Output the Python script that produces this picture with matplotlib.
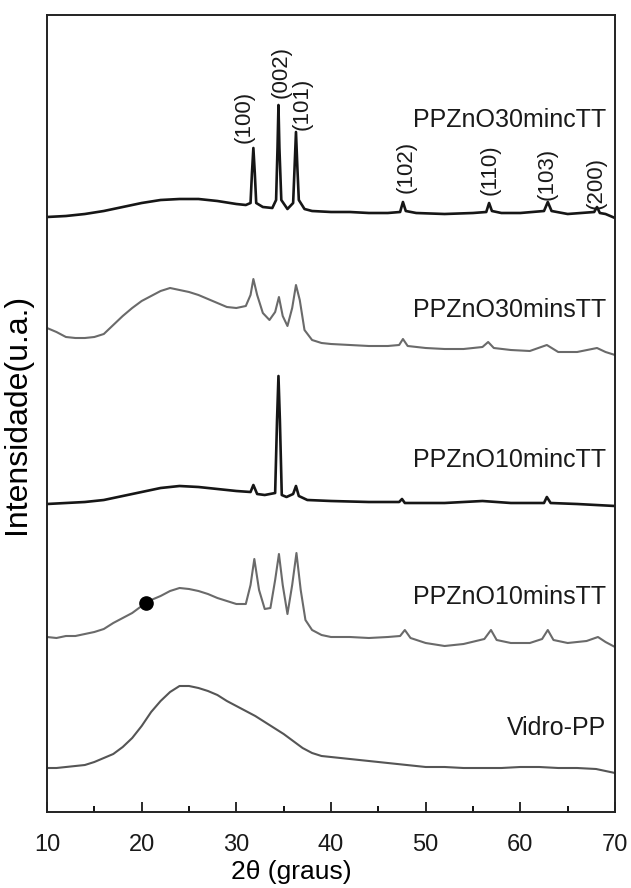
import matplotlib
matplotlib.use("Agg")
import matplotlib.pyplot as plt
from matplotlib.ticker import MultipleLocator

plt.rcParams['font.family'] = ['Liberation Sans', 'DejaVu Sans']

# ---- data (2theta in degrees, intensity in arbitrary units) ----
x_30c = [10, 12, 14, 16, 18, 20, 22, 24, 26, 28, 30, 31, 31.5, 31.65, 31.8, 31.95, 32.1, 32.8, 33.8,
         34.2, 34.35, 34.45, 34.55, 34.75, 35.4, 36.0, 36.15, 36.3, 36.45, 36.6, 37.2, 38, 40, 42, 44, 46,
         47.3, 47.6, 47.9, 49, 52, 55, 56.4, 56.7, 57.0, 58, 60, 62.5, 62.9, 63.3, 65, 67.8, 68.1, 68.4, 69, 70]
y_30c = [1, 2, 4, 7, 11, 15, 18, 19, 19, 17, 14, 13, 15, 45, 70, 45, 15, 11, 10,
         18, 70, 113, 70, 18, 9, 15, 50, 86, 50, 18, 9, 7, 6, 6, 5, 5,
         6, 16, 7, 5, 4, 5, 6, 15, 7, 5, 5, 7, 16, 7, 4, 6, 11, 5, 4, 0]

x_30s = [10, 11, 12, 13, 14, 15, 16, 17, 18, 19, 20, 21, 22, 23, 24, 25, 26, 27, 28, 29, 30, 31,
         31.5, 31.8, 32.2, 32.8, 33.5, 34.1, 34.5, 34.9, 35.4, 35.9, 36.3, 36.7, 37.2, 38, 39, 40, 42, 44, 46,
         47.2, 47.6, 48.1, 50, 52, 54, 56, 56.6, 57.2, 59, 61, 62.8, 64, 66, 68.1, 69, 70]
y_30s = [27, 23, 18, 17, 17, 18, 21, 30, 39, 47, 54, 59, 64, 67, 65, 63, 60, 56, 52, 48, 47, 49,
         60, 76, 60, 42, 35, 43, 58, 39, 29, 47, 70, 55, 25, 15, 12, 11, 10, 9, 9,
         10, 16, 9, 7, 6, 6, 8, 13, 7, 5, 4, 10, 3, 3, 7, 3, 0]

x_10c = [10, 12, 14, 16, 18, 20, 22, 24, 26, 28, 30, 31.5, 31.8, 32.2, 33, 34.1, 34.3, 34.45, 34.6, 34.8,
         35.3, 36.0, 36.3, 36.6, 37.5, 40, 44, 47.2, 47.5, 47.8, 52, 56, 59, 62.5, 62.8, 63.2, 66, 70]
y_10c = [2, 3, 4, 6, 10, 14, 18, 20, 19, 17, 15, 14, 21, 12, 11, 13, 86, 130, 86, 11,
         9, 12, 20, 10, 6, 5, 4, 4, 7, 3, 3, 5, 3, 3, 9, 3, 2, 0]

x_10s = [10, 11, 12, 13, 14, 15, 16, 17, 18, 19, 20, 21, 22, 23, 24, 25, 26, 27, 28, 29, 30, 31,
         31.5, 31.9, 32.4, 33, 33.6, 34.1, 34.5, 34.9, 35.4, 35.9, 36.35, 36.8, 37.3, 38, 39, 40, 42, 44, 46,
         47.3, 47.8, 48.4, 50, 52, 54, 56.2, 56.9, 57.5, 59, 61, 62.3, 62.9, 63.5, 65, 67, 68.2, 69, 70]
y_10s = [10, 9, 11, 11, 13, 15, 18, 24, 29, 34, 41, 47, 51, 56, 59, 58, 56, 53, 49, 46, 43, 43,
         62, 88, 57, 38, 39, 67, 93, 62, 33, 62, 94, 57, 27, 17, 12, 10, 10, 9, 10,
         11, 17, 9, 4, 1, 3, 8, 17, 7, 4, 4, 8, 17, 7, 4, 6, 10, 5, 0]

x_vid = [10, 11, 12, 13, 14, 15, 16, 17, 18, 19, 20, 21, 22, 23, 24, 25, 26, 27, 28, 29, 30, 31, 32, 33,
         34, 35, 36, 37, 38, 39, 40, 42, 44, 46, 48, 50, 52, 54, 56, 58, 60, 62, 64, 66, 68, 70]
y_vid = [5, 5, 6, 7, 8, 11, 15, 19, 26, 35, 47, 61, 72, 81, 87, 87, 85, 82, 78, 72, 67, 62, 57, 51,
         45, 39, 32, 25, 20, 17, 16, 14, 12, 10, 8, 6, 6, 5, 5, 5, 6, 6, 5, 5, 4, 0]

series_names = ['PPZnO30mincTT', 'PPZnO30minsTT', 'PPZnO10mincTT', 'PPZnO10minsTT', 'Vidro-PP']
series_x = [x_30c, x_30s, x_10c, x_10s, x_vid]
series_y = [y_30c, y_30s, y_10c, y_10s, y_vid]

hkl_labels = ['(100)', '(002)', '(101)', '(102)', '(110)', '(103)', '(200)']
hkl_x = [30.8, 34.7, 36.9, 47.9, 56.8, 62.8, 68.0]

marker_x = 20.5   # marked point on PPZnO10minsTT
marker_y = 44

# ---- layout / style ----
offsets = [594, 457, 306, 165, 39]
colors = ['#161616', '#6a6a6a', '#161616', '#6a6a6a', '#555555']
widths = [1.9, 1.5, 1.9, 1.5, 1.5]
label_y = [692, 502, 352, 215, 84]
hkl_y = [695, 740, 708, 645, 642, 638, 629]

fig = plt.figure(figsize=(6.31, 8.88), dpi=100)
ax = fig.add_axes([47 / 631, 1 - 812 / 888, 568 / 631, 797 / 888])

for xs, ys, off, c, lw, name, ly in zip(series_x, series_y, offsets, colors, widths, series_names, label_y):
    ax.plot(xs, [v + off for v in ys], color=c, lw=lw, solid_joinstyle='round')
    ax.text(69.1, ly, name, ha='right', va='center', fontsize=18, color='#1a1a1a')

ax.plot([marker_x], [marker_y + offsets[3]], 'o', color='black', ms=9.5)

for lab, hx, hy in zip(hkl_labels, hkl_x, hkl_y):
    ax.text(hx, hy, lab, rotation=90, ha='center', va='center', fontsize=16, color='#1a1a1a')

ax.set_xlim(10, 70)
ax.set_ylim(0, 797)
ax.xaxis.set_major_locator(MultipleLocator(10))
ax.xaxis.set_minor_locator(MultipleLocator(5))
ax.set_yticks([])
ax.tick_params(axis='x', which='major', direction='in', length=7, width=1.3, labelsize=17, pad=16, colors='#1a1a1a')
ax.tick_params(axis='x', which='minor', direction='in', length=4, width=1.3)
for s in ax.spines.values():
    s.set_linewidth(1.4)
    s.set_color('#222222')

ax.set_xlabel('2θ (graus)', fontsize=19)
ax.xaxis.label.set_verticalalignment('center')
ax.xaxis.set_label_coords(0.43, -0.0755)
ax.set_ylabel('Intensidade(u.a.)', fontsize=23)
ax.yaxis.label.set_verticalalignment('center')
ax.yaxis.set_label_coords(-0.052, 0.5)

fig.savefig('out.png', dpi=100)
